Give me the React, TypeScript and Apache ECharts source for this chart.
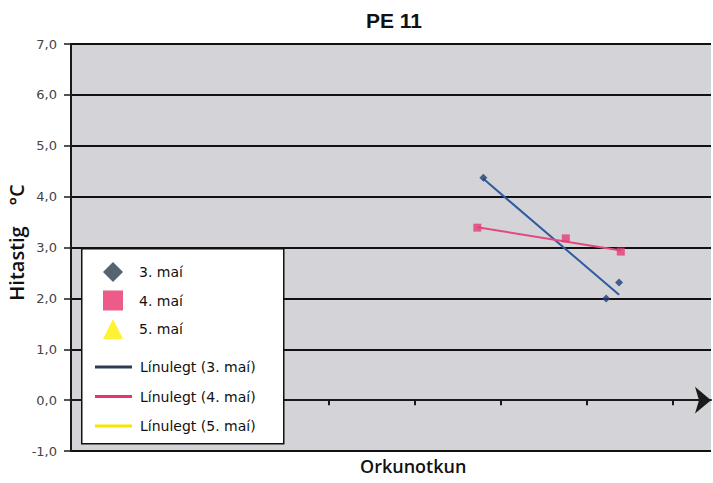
import React, { useEffect, useRef } from 'react';
import * as echarts from 'echarts';

const title = 'PE 11';
const yAxisName = 'Hitastig    °C';
const xAxisName = 'Orkunotkun';
const yTicks = [-1, 0, 1, 2, 3, 4, 5, 6, 7];
const xTickValues = [1, 2, 3, 4, 5, 6, 7];

const seriesNames = ['3. maí', '4. maí', '5. maí'];
const trendNames = ['Línulegt (3. maí)', 'Línulegt (4. maí)', 'Línulegt (5. maí)'];

const may3X = [4.8, 6.23, 6.38];
const may3Y = [4.37, 2.0, 2.31];
const may4X = [4.73, 5.76, 6.4];
const may4Y = [3.39, 3.18, 2.92];
const may5X: number[] = [];
const may5Y: number[] = [];

const trend3X = [4.8, 6.38];
const trend3Y = [4.35, 2.07];
const trend4X = [4.73, 6.4];
const trend4Y = [3.4, 2.94];
const trend5X: number[] = [];
const trend5Y: number[] = [];

const zip = (xs: number[], ys: number[]) => xs.map((x, i) => [x, ys[i]]);

export default function App() {
  const ref = useRef<HTMLDivElement>(null);
  useEffect(() => {
    const chart = echarts.init(ref.current!, null, { renderer: 'svg' });
    const font = 'DejaVu Sans';
    chart.setOption({
      animation: false,
      backgroundColor: '#ffffff',
      title: {
        text: title,
        left: 361,
        top: 5,
        textStyle: { fontFamily: 'Liberation Sans', fontSize: 21, fontWeight: 'bold', color: '#111' },
      },
      grid: {
        left: 71,
        right: 2,
        top: 44,
        bottom: 32,
        show: true,
        backgroundColor: '#d4d4d8',
        borderWidth: 0,
        containLabel: false,
        outerBoundsMode: 'none',
      },
      legend: [
        {
          orient: 'vertical',
          left: 103,
          top: 262,
          padding: 0,
          itemWidth: 20,
          itemHeight: 20,
          itemGap: 8.5,
          z: 10,
          textStyle: { fontFamily: font, fontSize: 14, color: '#111', padding: [0, 0, 0, 11] },
          data: [
            { name: seriesNames[0], icon: 'diamond', itemStyle: { color: '#2a3d50' } },
            { name: seriesNames[1], icon: 'rect', itemStyle: { color: '#e8336c' } },
            { name: seriesNames[2], icon: 'triangle', itemStyle: { color: '#ffee00' } },
          ],
        },
        {
          orient: 'vertical',
          left: 95,
          top: 360,
          padding: 0,
          itemWidth: 37,
          itemHeight: 3,
          itemGap: 15.5,
          z: 10,
          textStyle: { fontFamily: font, fontSize: 14, color: '#111', padding: [0, 0, 0, 3] },
          data: [
            { name: trendNames[0], icon: 'rect', itemStyle: { color: '#2d3c50' } },
            { name: trendNames[1], icon: 'rect', itemStyle: { color: '#e8336c' } },
            { name: trendNames[2], icon: 'rect', itemStyle: { color: '#f5e800' } },
          ],
        },
      ],
      xAxis: {
        type: 'value',
        min: 0,
        max: 7.45,
        interval: 1,
        axisLine: {
          show: true,
          onZero: true,
          symbol: ['none', 'arrow'],
          symbolSize: [20, 16],
          lineStyle: { color: '#1a1a1a', width: 2 },
        },
        axisTick: {
          show: true,
          inside: false,
          length: 5,
          customValues: xTickValues,
          lineStyle: { color: '#1a1a1a', width: 2 },
        },
        axisLabel: { show: false },
        splitLine: { show: false },
      },
      yAxis: {
        type: 'value',
        min: -1,
        max: 7,
        interval: 1,
        name: yAxisName,
        nameLocation: 'middle',
        nameGap: 45,
        nameRotate: 90,
        nameMoveOverlap: false,
        nameTextStyle: {
          fontFamily: 'Open Sans',
          fontSize: 20,
          fontWeight: 600,
          color: '#111',
          padding: [0, 0, 0, 10],
        },
        axisLine: { show: true, lineStyle: { color: '#1a1a1a', width: 2 } },
        axisTick: { show: true, inside: false, length: 7, lineStyle: { color: '#1a1a1a', width: 1.5 } },
        axisLabel: {
          fontFamily: font,
          fontSize: 13,
          color: '#444',
          margin: 14,
          formatter: (v: number) => v.toFixed(1).replace('.', ','),
          customValues: yTicks,
        },
        splitLine: { show: true, lineStyle: { color: '#111', width: 2 } },
      },
      graphic: [
        {
          type: 'rect',
          left: 81,
          top: 248,
          z: 5,
          shape: { width: 202, height: 195 },
          style: { fill: '#ffffff', stroke: '#111', lineWidth: 1.5 },
        },
        {
          type: 'text',
          left: 360,
          top: 457,
          style: {
            text: xAxisName,
            fontFamily: 'Open Sans',
            fontSize: 18,
            fontWeight: 600,
            fill: '#111',
          },
        },
      ],
      series: [
        {
          name: seriesNames[0],
          type: 'scatter',
          symbol: 'diamond',
          symbolSize: 8,
          itemStyle: { color: '#1f3f75' },
          data: zip(may3X, may3Y),
          z: 5,
        },
        {
          name: seriesNames[1],
          type: 'scatter',
          symbol: 'rect',
          symbolSize: 8,
          itemStyle: { color: '#e23c74' },
          data: zip(may4X, may4Y),
          z: 5,
        },
        {
          name: seriesNames[2],
          type: 'scatter',
          symbol: 'triangle',
          symbolSize: 8,
          itemStyle: { color: '#ffee00' },
          data: zip(may5X, may5Y),
          z: 5,
        },
        {
          name: trendNames[0],
          type: 'line',
          symbol: 'none',
          itemStyle: { color: '#2f5aa0' },
          lineStyle: { color: '#2f5aa0', width: 2 },
          data: zip(trend3X, trend3Y),
          z: 4,
        },
        {
          name: trendNames[1],
          type: 'line',
          symbol: 'none',
          itemStyle: { color: '#e4497d' },
          lineStyle: { color: '#e4497d', width: 2 },
          data: zip(trend4X, trend4Y),
          z: 4,
        },
        {
          name: trendNames[2],
          type: 'line',
          symbol: 'none',
          itemStyle: { color: '#ffee00' },
          lineStyle: { color: '#ffee00', width: 2 },
          data: zip(trend5X, trend5Y),
          z: 4,
        },
      ],
    });
    return () => chart.dispose();
  }, []);
  return (
    <div
      ref={ref}
      style={{ width: 713, height: 483, position: 'absolute', left: 0, top: 0 }}
    />
  );
}
